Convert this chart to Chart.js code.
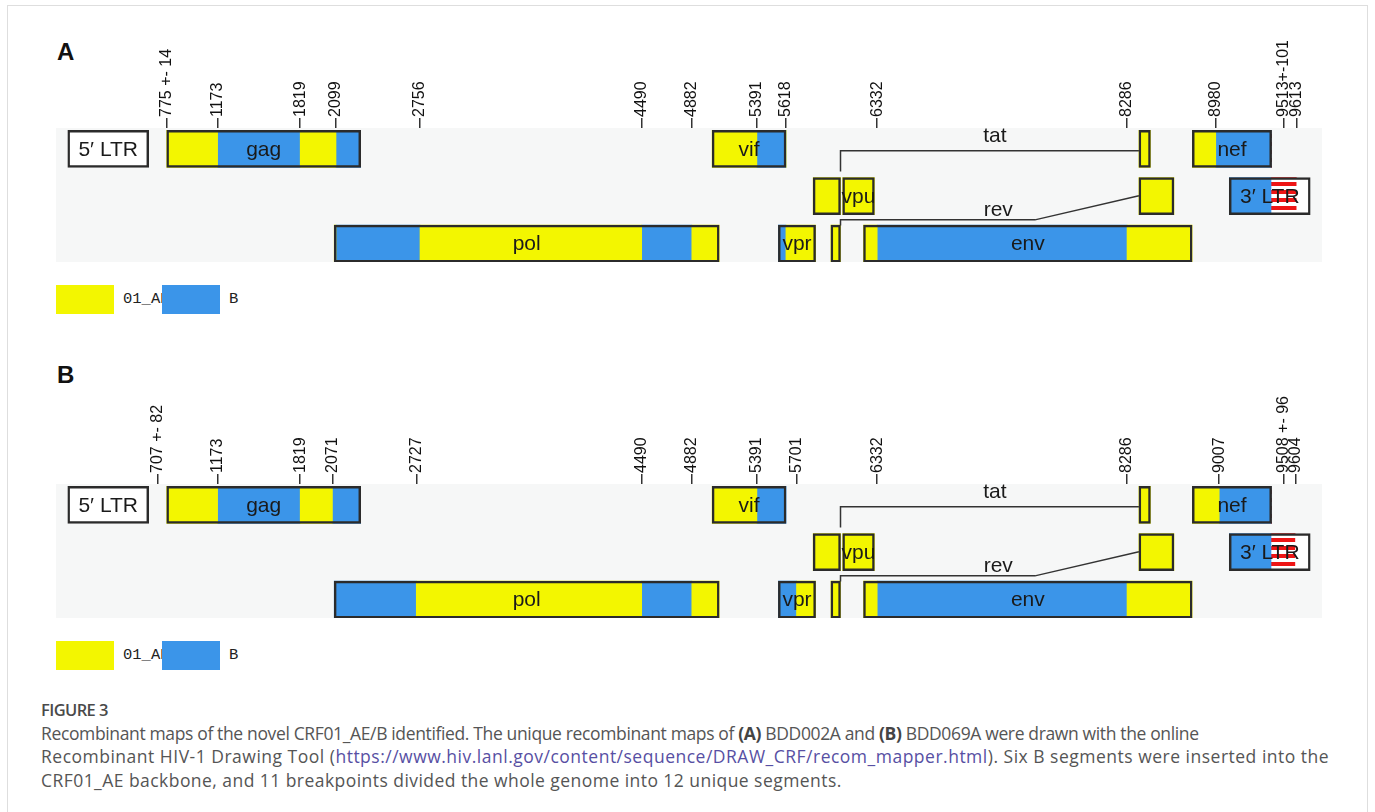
<!DOCTYPE html>
<html>
<head>
<meta charset="utf-8">
<script src="https://cdn.jsdelivr.net/npm/chart.js@4.4.1/dist/chart.umd.min.js"></script>
<style>
  body { margin: 0; background: #fff; width: 1375px; height: 812px; overflow: hidden; position: relative; }
  .frame { position: absolute; left: 7px; top: 5px; width: 1359px; height: 900px; border: 1.5px solid #dedede; }
  .letter { position: absolute; left: 57px; font: bold 24px "Liberation Sans", Arial, sans-serif; line-height: 24px; color: #111; }
  canvas { position: absolute; left: 0; }
  .lg-box { position: absolute; width: 58px; height: 29px; }
  .lg-text { position: absolute; font: 15.5px "Liberation Mono", monospace; line-height: 29px; color: #222; }
  .caption { position: absolute; left: 41px; top: 698px; font: 17.5px "Open Sans", sans-serif; line-height: 23.5px; color: #555; white-space: nowrap; }
  .caption .fig { font-size: 16.5px; font-weight: 600; letter-spacing: -0.6px; color: #4a4a4a; }
  .caption b { color: #444; }
  .caption a { color: #574fa3; text-decoration: none; }
</style>
</head>
<body>
<div class="frame"></div>
<div class="letter" style="top:40px">A</div>
<div class="letter" style="top:363px">B</div>
<canvas id="mapA" width="1375" height="240" style="top:30px"></canvas>
<canvas id="mapB" width="1375" height="240" style="top:386px"></canvas>
<div id="legendA"></div>
<div id="legendB"></div>
<div class="caption">
  <div class="fig">FIGURE 3</div>
  <div style="letter-spacing:-0.36px">Recombinant maps of the novel CRF01_AE/B identified. The unique recombinant maps of <b>(A)</b> BDD002A and <b>(B)</b> BDD069A were drawn with the online</div>
  <div style="letter-spacing:0.5px">Recombinant HIV-1 Drawing Tool (<a>https://www.hiv.lanl.gov/content/sequence/DRAW_CRF/recom_mapper.html</a>). Six B segments were inserted into the</div>
  <div style="letter-spacing:0.45px">CRF01_AE backbone, and 11 breakpoints divided the whole genome into 12 unique segments.</div>
</div>

<script>
// colours
const AE_COLOR = '#f3f600';
const B_COLOR = '#3b95e9';

// gene boxes (genome position): row 0 = top, 1 = middle, 2 = bottom
const geneNames  = ['5′ LTR', 'gag', 'pol', 'vif', 'vpr', '', '', 'vpu', 'env', '', '', 'nef', '3′ LTR'];
const geneRows   = [0, 0, 2, 0, 2, 1, 2, 1, 2, 0, 1, 0, 1];
const geneStarts = [1, 775, 2085, 5041, 5559, 5831, 5970, 6062, 6225, 8379, 8379, 8797, 9086];
const geneEnds   = [634, 2292, 5096, 5619, 5850, 6045, 6045, 6310, 8795, 8469, 8653, 9417, 9719];

// spliced tat / rev introns (genome position, row)
const tatLineX = [6045, 6045, 8379];
const tatLineY = [0.48, 0.04, 0.04];
const revLineX = [6045, 6045, 7566, 8379];
const revLineY = [1.62, 1.50, 1.50, 0.99];
const spliceNames = ['tat', 'rev'];
const spliceLabelX = [7253, 7279];
const spliceLabelY = [-0.27, 1.29];

// panel A: BDD002A
const breaksA = [775, 1173, 1819, 2099, 2756, 4490, 4882, 5391, 5618, 6332, 8286, 8980, 9513, 9613];
const tickTextA = ['775 +- 14', '1173', '1819', '2099', '2756', '4490', '4882', '5391', '5618', '6332', '8286', '8980', '9513+-101', '9613'];
const typesA = ['AE', 'B', 'AE', 'B', 'AE', 'B', 'AE', 'B', 'AE', 'B', 'AE', 'B', 'AE'];
const uncertainA = [9513, 101];

// panel B: BDD069A
const breaksB = [707, 1173, 1819, 2071, 2727, 4490, 4882, 5391, 5701, 6332, 8286, 9007, 9508, 9604];
const tickTextB = ['707 +- 82', '1173', '1819', '2071', '2727', '4490', '4882', '5391', '5701', '6332', '8286', '9007', '9508 +- 96', '9604'];
const typesB = ['AE', 'B', 'AE', 'B', 'AE', 'B', 'AE', 'B', 'AE', 'B', 'AE', 'B', 'AE'];
const uncertainB = [9508, 96];

const legendLabels = ['01_AE', 'B'];
const legendColors = [AE_COLOR, B_COLOR];

const TICK_FONT = 16;

// red / white stripes for the uncertain breakpoint region
function stripePattern() {
  const c = document.createElement('canvas');
  c.width = 8; c.height = 8;
  const g = c.getContext('2d');
  g.fillStyle = '#ffffff'; g.fillRect(0, 0, 8, 8);
  g.fillStyle = '#ee1515'; g.fillRect(0, 0, 8, 4);
  return g.createPattern(c, 'repeat');
}

// split the genome into subtype spans, with the uncertain region cut out
function subtypeSpans(breaks, types, unc) {
  const lo = unc[0] - unc[1], hi = unc[0] + unc[1];
  const spans = [];
  for (let i = 0; i < breaks.length - 1; i++) {
    const s = breaks[i], e = breaks[i + 1], t = types[i];
    if (e <= lo || s >= hi) spans.push({ s, e, t });
    else {
      if (s < lo) spans.push({ s, e: lo, t });
      if (e > hi) spans.push({ s: hi, e, t });
    }
  }
  spans.push({ s: lo, e: Math.min(hi, breaks[breaks.length - 1] + 1), t: 'unc' });
  return spans.sort((a, b) => a.s - b.s);
}

// colour pieces for every gene box
function genePieces(spans) {
  const out = { AE: [], B: [], none: [], unc: [] };
  geneStarts.forEach((gs, i) => {
    const ge = geneEnds[i], row = geneRows[i];
    let cur = gs;
    spans.forEach(sp => {
      const s = Math.max(sp.s, gs), e = Math.min(sp.e, ge);
      if (e <= s) return;
      if (s > cur) out.none.push({ x: [cur, s], y: row });
      out[sp.t].push({ x: [s, e], y: row });
      cur = e;
    });
    if (cur < ge) out.none.push({ x: [cur, ge], y: row });
  });
  return out;
}

const mapDecor = {
  id: 'mapDecor',
  beforeDatasetsDraw(chart) {
    const { ctx, chartArea: a } = chart;
    ctx.save();
    ctx.fillStyle = '#f6f7f7';
    ctx.fillRect(a.left, a.top, a.right - a.left, a.bottom - a.top);
    ctx.restore();
  },
  afterDatasetsDraw(chart) {
    const { ctx, scales: { x, y } } = chart;
    ctx.save();
    ctx.font = '21px "Liberation Sans", Arial, sans-serif';
    ctx.fillStyle = '#1a1a1a';
    ctx.textAlign = 'center';
    ctx.textBaseline = 'middle';
    geneNames.forEach((name, i) => {
      if (!name) return;
      ctx.fillText(name, x.getPixelForValue((geneStarts[i] + geneEnds[i]) / 2), y.getPixelForValue(geneRows[i]) + 1);
    });
    spliceNames.forEach((name, i) => {
      ctx.fillText(name, x.getPixelForValue(spliceLabelX[i]), y.getPixelForValue(spliceLabelY[i]));
    });
    ctx.restore();
  }
};

function drawPanel(id, breaks, tickText, types, unc) {
  const pieces = genePieces(subtypeSpans(breaks, types, unc));
  const bar = (label, data, color) => ({
    label, data, backgroundColor: color, borderWidth: 0,
    indexAxis: 'y', grouped: false, barThickness: 37, order: 3
  });
  const line = (label, xs, ys) => ({
    type: 'line', label, indexAxis: 'x',
    data: xs.map((v, i) => ({ x: v, y: ys[i] })),
    borderColor: '#333', borderWidth: 1.5, pointRadius: 0, fill: false, tension: 0, order: 1
  });
  new Chart(document.getElementById(id), {
    type: 'bar',
    data: {
      datasets: [
        bar('uncovered', pieces.none, '#ffffff'),
        bar('01_AE', pieces.AE, AE_COLOR),
        bar('B', pieces.B, B_COLOR),
        bar('uncertain', pieces.unc, stripePattern()),
        {
          label: 'genes',
          data: geneStarts.map((s, i) => ({ x: [s, geneEnds[i]], y: geneRows[i] })),
          backgroundColor: 'rgba(0,0,0,0)', borderColor: '#2b2b2b', borderWidth: 1.8, borderSkipped: false,
          indexAxis: 'y', grouped: false, barThickness: 37, order: 2
        },
        line('tat', tatLineX, tatLineY),
        line('rev', revLineX, revLineY)
      ]
    },
    options: {
      indexAxis: 'y',
      responsive: false,
      animation: false,
      devicePixelRatio: 1,
      events: [],
      layout: { padding: { left: 56, right: 53, top: 0, bottom: 8 } },
      plugins: { legend: { display: false }, tooltip: { enabled: false } },
      scales: {
        x: {
          type: 'linear', position: 'top', min: -91, max: 9811, offset: false,
          afterBuildTicks: s => { s.ticks = breaks.map(v => ({ value: v })); },
          afterFit: s => { s.height = 98; },
          border: { display: false },
          grid: { drawOnChartArea: false, drawTicks: true, tickLength: 10, color: '#333', lineWidth: 1.5 },
          ticks: {
            autoSkip: false, minRotation: 90, maxRotation: 90, padding: 1,
            labelOffset: TICK_FONT * 1.2,
            color: '#111', font: { family: '"Liberation Sans", Arial, sans-serif', size: TICK_FONT },
            callback: (v, i) => tickText[i]
          }
        },
        y: { type: 'linear', reverse: true, offset: false, min: -0.44, max: 2.39, display: false }
      }
    },
    plugins: [mapDecor]
  });
}

function drawLegend(id, top) {
  const host = document.getElementById(id);
  legendLabels.forEach((lab, i) => {
    const box = document.createElement('div');
    box.className = 'lg-box';
    box.style.left = (56 + i * 106) + 'px';
    box.style.top = top + 'px';
    box.style.background = legendColors[i];
    host.appendChild(box);
    const txt = document.createElement('div');
    txt.className = 'lg-text';
    txt.style.left = (123 + i * 106) + 'px';
    txt.style.top = top + 'px';
    txt.textContent = lab;
    host.appendChild(txt);
  });
}

drawPanel('mapA', breaksA, tickTextA, typesA, uncertainA);
drawPanel('mapB', breaksB, tickTextB, typesB, uncertainB);
drawLegend('legendA', 285);
drawLegend('legendB', 641);
</script>
</body>
</html>
